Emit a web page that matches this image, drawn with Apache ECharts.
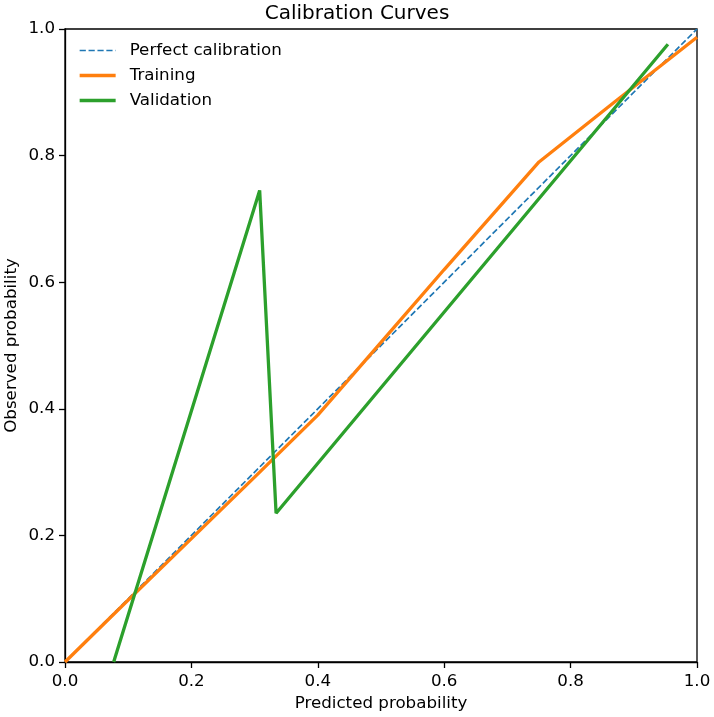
<!doctype html>
<html lang="en">
<head>
    <meta charset="utf-8">
    <title>Calibration Curves</title>
    <script src="https://cdn.jsdelivr.net/npm/echarts@6/dist/echarts.min.js"></script>
    <style>
        html, body { margin: 0; padding: 0; background: #fff; }
        #main { width: 714px; height: 717px; }
    </style>
</head>
<body>
    <div id="main"></div>
    <script type="text/javascript">
        // values
        var perfectX = [0, 1];
        var perfectY = [0, 1];
        var trainX = [0, 0.1, 0.2, 0.3, 0.4, 0.5, 0.6, 0.75, 0.87, 1.0];
        var trainY = [0, 0.098, 0.195, 0.292, 0.39, 0.505, 0.62, 0.79, 0.885, 0.987];
        var validX = [0.077, 0.308, 0.334, 0.954];
        var validY = [0, 0.745, 0.235, 0.976];

        function pairs(xs, ys) {
            return xs.map(function (x, i) { return [x, ys[i]]; });
        }

        var font = 'DejaVu Sans';
        var fs = 16.7;
        var chart = echarts.init(document.getElementById('main'));
        var option = {
            animation: false,
            backgroundColor: '#fff',
            textStyle: { fontFamily: font, color: '#000' },
            title: {
                text: 'Calibration Curves',
                left: 'center',
                top: -1,
                textStyle: { fontFamily: font, fontSize: 20, fontWeight: 'normal', color: '#000' }
            },
            legend: {
                left: 73,
                top: 37,
                orient: 'vertical',
                itemGap: 8,
                itemWidth: 36,
                itemHeight: 17,
                itemStyle: { opacity: 0 },
                textStyle: { fontFamily: font, fontSize: fs, color: '#000', padding: [0, 0, 0, 9] },
                data: [
                    { name: 'Perfect calibration', lineStyle: { width: 1.7 } },
                    { name: 'Training', lineStyle: { width: 3.3 } },
                    { name: 'Validation', lineStyle: { width: 3.3 } }
                ]
            },
            grid: {
                left: 65, right: 17, top: 29, bottom: 55,
                outerBoundsMode: 'none',
                containLabel: false,
                show: true, borderColor: '#000', borderWidth: 1.3
            },
            xAxis: {
                type: 'value', min: 0, max: 1, interval: 0.2,
                name: 'Predicted probability', nameLocation: 'middle', nameGap: 33,
                nameMoveOverlap: false,
                nameTextStyle: { fontFamily: font, fontSize: fs, color: '#000' },
                axisLine: { show: true, lineStyle: { color: '#000', width: 1.3 } },
                axisTick: { show: true, length: 6, lineStyle: { color: '#000', width: 1.3 } },
                axisLabel: { fontFamily: font, fontSize: fs, color: '#000', margin: 11,
                    formatter: function (v) { return v.toFixed(1); } },
                splitLine: { show: false }
            },
            yAxis: {
                type: 'value', min: 0, max: 1, interval: 0.2,
                name: 'Observed probability', nameLocation: 'middle', nameGap: 45,
                nameMoveOverlap: false,
                nameTextStyle: { fontFamily: font, fontSize: fs, color: '#000' },
                axisLine: { show: true, lineStyle: { color: '#000', width: 1.3 } },
                axisTick: { show: true, length: 6, lineStyle: { color: '#000', width: 1.3 } },
                axisLabel: { fontFamily: font, fontSize: fs, color: '#000', margin: 10,
                    formatter: function (v) { return v.toFixed(1); } },
                splitLine: { show: false }
            },
            series: [
                {
                    name: 'Perfect calibration', type: 'line', showSymbol: false, symbol: 'none',
                    data: pairs(perfectX, perfectY),
                    itemStyle: { color: '#1f77b4' },
                    lineStyle: { color: '#1f77b4', width: 1.7, type: [6.2, 2.7] }
                },
                {
                    name: 'Training', type: 'line', showSymbol: false, symbol: 'none',
                    data: pairs(trainX, trainY),
                    itemStyle: { color: '#ff7f0e' },
                    lineStyle: { color: '#ff7f0e', width: 3.3 }
                },
                {
                    name: 'Validation', type: 'line', showSymbol: false, symbol: 'none',
                    data: pairs(validX, validY),
                    itemStyle: { color: '#2ca02c' },
                    lineStyle: { color: '#2ca02c', width: 3.3 }
                }
            ]
        };
        chart.setOption(option);
    </script>
</body>
</html>
